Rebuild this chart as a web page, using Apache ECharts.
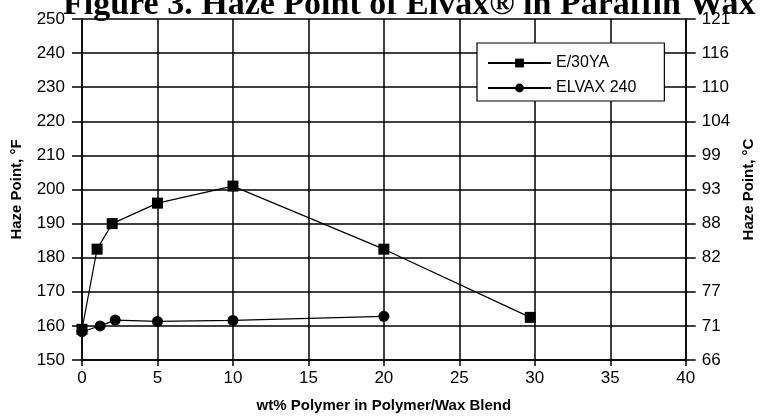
<!DOCTYPE html>
<html>
<head>
<meta charset="utf-8">
<script src="https://cdn.jsdelivr.net/npm/echarts@6/dist/echarts.min.js"></script>
<style>html,body{margin:0;padding:0;background:#fff;}#c{width:764px;height:418px;}</style>
</head>
<body>
<div id="c"></div>
<script>
const e30yaX = [0, 1, 2, 5, 10, 20, 29.7];
const e30yaY = [159, 182.5, 190, 196, 201, 182.5, 162.5];
const elvaxX = [0, 1.2, 2.2, 5, 10, 20];
const elvaxY = [158.3, 160, 161.7, 161.3, 161.6, 162.8];
const celsiusLabels = ['66', '71', '77', '82', '88', '93', '99', '104', '110', '116', '121'];
const seriesNames = ['E/30YA', 'ELVAX 240'];

const labelFont = '"Liberation Sans Narrow", "Liberation Sans", Arial, sans-serif';
const chart = echarts.init(document.getElementById('c'));
const axisBlack = { lineStyle: { color: '#000', width: 1.5 } };
chart.setOption({
  animation: false,
  backgroundColor: '#fff',
  title: {
    text: 'Figure 3. Haze Point of Elvax\u00ae in Paraffin Wax',
    left: 58,
    top: -17,
    textStyle: { fontFamily: '"Liberation Serif", "Times New Roman", serif', fontWeight: 'bold', fontSize: 34, color: '#000' }
  },
  legend: {
    orient: 'vertical',
    left: 477,
    top: 43,
    itemWidth: 63,
    itemHeight: 11,
    itemGap: 9,
    padding: [12, 28, 5, 10],
    borderColor: '#000',
    borderWidth: 1.2,
    backgroundColor: '#fff',
    textStyle: { fontFamily: labelFont, fontSize: 16, color: '#000' },
    data: seriesNames
  },
  grid: { left: 82, right: 70, top: 19, bottom: 57 },
  xAxis: {
    type: 'value', min: 0, max: 40, interval: 5,
    name: 'wt% Polymer in Polymer/Wax Blend',
    nameLocation: 'middle', nameGap: 38,
    nameTextStyle: { fontFamily: labelFont, fontWeight: 'bold', fontSize: 15, color: '#000' },
    axisLine: axisBlack,
    axisTick: { show: true, length: 6, lineStyle: { color: '#000', width: 1.5 } },
    axisLabel: { fontFamily: labelFont, fontSize: 17, color: '#000', margin: 10 },
    splitLine: { show: true, lineStyle: { color: '#000', width: 1.5 } }
  },
  yAxis: [{
    type: 'value', min: 150, max: 250, interval: 10, position: 'left',
    name: 'Haze Point, \u00b0F',
    nameLocation: 'middle', nameGap: 58, nameRotate: 90,
    nameTextStyle: { fontFamily: labelFont, fontWeight: 'bold', fontSize: 15, color: '#000' },
    axisLine: { show: true, lineStyle: { color: '#000', width: 1.5 } },
    axisTick: { show: true, length: 10, lineStyle: { color: '#000', width: 1.5 } },
    axisLabel: { fontFamily: labelFont, fontSize: 17, color: '#000', margin: 17 },
    splitLine: { show: true, lineStyle: { color: '#000', width: 1.5 } }
  }, {
    type: 'value', min: 150, max: 250, interval: 10, position: 'right',
    name: 'Haze Point, \u00b0C',
    nameLocation: 'middle', nameGap: 52, nameRotate: 90,
    nameTextStyle: { fontFamily: labelFont, fontWeight: 'bold', fontSize: 15, color: '#000' },
    axisLine: { show: true, lineStyle: { color: '#000', width: 1.5 } },
    axisTick: { show: true, length: 10, lineStyle: { color: '#000', width: 1.5 } },
    axisLabel: {
      fontFamily: labelFont, fontSize: 17, color: '#000', margin: 16,
      formatter: v => celsiusLabels[Math.round((v - 150) / 10)]
    },
    splitLine: { show: false }
  }],
  series: [{
    name: seriesNames[0], type: 'line',
    data: e30yaX.map((x, i) => [x, e30yaY[i]]),
    symbol: 'rect', symbolSize: 11,
    lineStyle: { color: '#000', width: 1.2 },
    itemStyle: { color: '#000' },
    z: 5
  }, {
    name: seriesNames[1], type: 'line',
    data: elvaxX.map((x, i) => [x, elvaxY[i]]),
    symbol: 'circle', symbolSize: 11,
    lineStyle: { color: '#000', width: 1.2 },
    itemStyle: { color: '#000' },
    z: 5
  }]
});
</script>
</body>
</html>
